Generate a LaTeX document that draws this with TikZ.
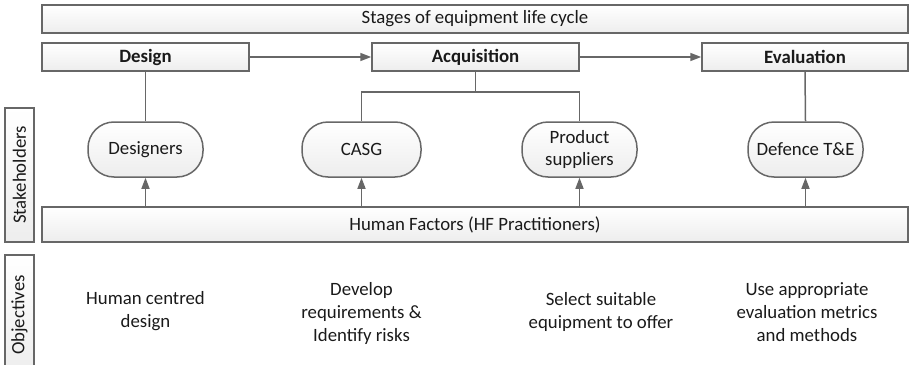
\documentclass[tikz,border=0pt]{standalone}
\usepackage{fontspec}
\setmainfont{Carlito}
\usetikzlibrary{arrows.meta}
\definecolor{edge}{HTML}{676767}
\definecolor{ink}{HTML}{1A1A1A}
\tikzset{
  base/.style={draw=edge, line width=1.5pt, top color=white, bottom color=black!7,
    inner sep=0pt, text=ink, font=\fontsize{18.8}{23}\selectfont},
  stagebox/.style={base, minimum height=28pt},
  pill/.style={base, rounded corners=26pt, minimum width=115pt, minimum height=55pt, align=center,
    font=\fontsize{18.8}{22}\selectfont},
  sidebox/.style={base, minimum height=29pt, rotate=90},
  link/.style={draw=edge, line width=1.5pt},
  arr/.style={link, -{Triangle[length=11pt,width=8pt]}},
  goal/.style={align=center, text=ink, font=\fontsize{18.8}{23}\selectfont},
}
\begin{document}
\begin{tikzpicture}[x=1pt, y=-1pt]
\useasboundingbox (0,0) rectangle (910,364);
\begin{scope}
\clip (0,0) rectangle (910,364);
% header and life-cycle stages
\node[stagebox, minimum width=866pt] (title) at (475,19) {Stages of equipment life cycle};
\node[stagebox, minimum width=207pt] (design) at (145.5,57) {\textbf{Design}};
\node[stagebox, minimum width=207pt] (acq) at (475.5,57) {\textbf{Acquisition}};
\node[stagebox, minimum width=206pt] (eval) at (805,57) {\textbf{Evaluation}};
% stakeholders
\node[pill] (designers) at (145.5,149.5) {Designers};
\node[pill, minimum width=119pt] (casg) at (361.5,149.5) {CASG};
\node[pill] (supp) at (579.5,149.5) {Product\\suppliers};
\node[pill] (te) at (805.5,149.5) {Defence T\&E};
\node[stagebox, minimum width=866pt, minimum height=35pt] (hf) at (475,224.5) {Human Factors (HF Practitioners)};
% side labels
\node[sidebox, minimum width=134pt] (lblS) at (19.5,175) {Stakeholders};
\node[sidebox, minimum width=120pt] (lblO) at (19.5,315) {Objectives};
\end{scope}
% objectives
\node[goal] (o1) at (145.5,311.5) {Human centred\\design};
\node[goal] (o2) at (361.5,313) {Develop\\requirements \&\\Identify risks};
\node[goal] (o3) at (601,311.5) {Select suitable\\equipment to offer};
\node[goal] (o4) at (807,312) {Use appropriate\\evaluation metrics\\and methods};
% stage flow
\draw[arr] (design.east) -- (acq.west);
\draw[arr] (acq.east) -- (eval.west);
% stage to stakeholder links
\coordinate (split) at ([yshift=-20pt]acq.south);
\draw[link] (design.south) -- (designers.north);
\draw[link] (acq.south) -- (split);
\draw[link] (casg.north) |- (split) -| (supp.north);
\draw[link] (eval.south) -- (te.north);
% HF support arrows
\draw[arr] (designers.south |- hf.north) -- (designers.south);
\draw[arr] (casg.south |- hf.north) -- (casg.south);
\draw[arr] (supp.south |- hf.north) -- (supp.south);
\draw[arr] (te.south |- hf.north) -- (te.south);
\end{tikzpicture}
\end{document}
